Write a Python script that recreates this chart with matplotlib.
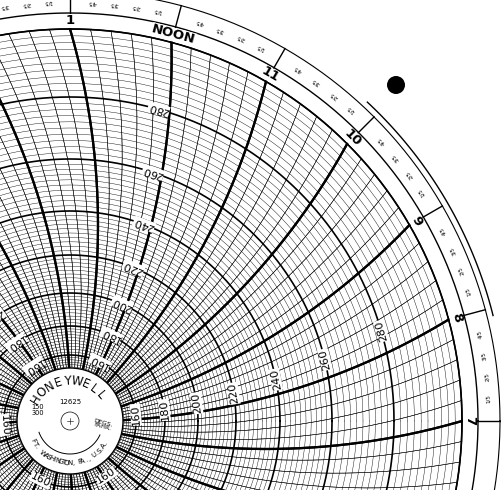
import numpy as np
import matplotlib
matplotlib.use("Agg")
import matplotlib.pyplot as plt

# temperature scale (deg F) -> radius on the paper (pixels), non-linear
scale_temps = [150, 160, 180, 200, 220, 240, 260, 280, 300]
scale_radii = [54, 66, 95, 128, 166, 210, 262, 324, 392]
label_temps = [160, 180, 200, 220, 240, 260, 280]
label_lines = [19, 77, 137, 197, 257, 317]      # outer angles of the label rows
hour_labels = ["7", "8", "9", "10", "11", "NOON", "1", "2"]
hour_angles = [0, 15, 30, 45, 60, 75, 90, 105]
fractions = ["1/5", "2/5", "3/5", "4/5"]

CX, CY = 70, 421
R_OUT = 392
A_ARC = 700          # radius of the time arcs

def rad(t):
    return np.interp(t, scale_temps, scale_radii)

def arc_theta(theta_out_deg, r):
    return np.radians(theta_out_deg) + np.arccos(R_OUT / (2 * A_ARC)) - np.arccos(r / (2 * A_ARC))

def arc_pts(theta_out_deg, r0=54, r1=R_OUT):
    r = np.linspace(r0, r1, 200)
    th = arc_theta(theta_out_deg, r)
    return CX + r * np.cos(th), CY - r * np.sin(th)

fig = plt.figure(figsize=(5.01, 4.90), dpi=100)
ax = fig.add_axes([0, 0, 1, 1])
ax.set_xlim(0, 501)
ax.set_ylim(490, 0)
ax.axis("off")

a = np.linspace(0, 2 * np.pi, 720)

# concentric temperature circles
for t in range(150, 301, 2):
    lw = 1.2 if t % 20 == 0 else 0.3
    r = rad(t)
    ax.plot(CX + r * np.cos(a), CY - r * np.sin(a), color="black", lw=lw)

# time arcs every 12 minutes; hours bold
for k in range(-24 * 5, 24 * 5):
    th = k * 3.0
    lw = 1.6 if k % 5 == 0 else 0.35
    x, y = arc_pts(th)
    ax.plot(x, y, color="black", lw=lw)

# outer band
for r, lw in [(R_OUT, 1.0), (408, 1.0), (430, 0.8)]:
    ax.plot(CX + r * np.cos(a), CY - r * np.sin(a), color="black", lw=lw)
aa = np.radians(np.linspace(14, 47, 100))
ax.plot(CX + 436 * np.cos(aa), CY - 436 * np.sin(aa), color="black", lw=1.0)

for lab, ang in zip(hour_labels, hour_angles):
    th = np.radians(ang)
    ax.plot([CX + R_OUT * np.cos(th), CX + 430 * np.cos(th)],
            [CY - R_OUT * np.sin(th), CY - 430 * np.sin(th)], color="black", lw=1.0)
    ax.text(CX + 400 * np.cos(th), CY - 400 * np.sin(th), lab,
            rotation=ang - 90, ha="center", va="center", fontsize=9.5,
            fontweight="bold", bbox=dict(fc="white", ec="none", pad=0.3))
    for q, s in zip([3, 6, 9, 12], fractions):
        t2 = np.radians(ang + q)
        ax.text(CX + 419 * np.cos(t2), CY - 419 * np.sin(t2), s,
                rotation=ang + q + 90, ha="center", va="center", fontsize=4)

# temperature labels along label rows
for lt in label_lines:
    for t in label_temps:
        r = rad(t)
        th = arc_theta(lt, r)
        ax.text(CX + r * np.cos(th), CY - r * np.sin(th), str(t),
                rotation=np.degrees(th) + 90, ha="center", va="center",
                fontsize=8, bbox=dict(fc="white", ec="none", pad=0.2))

# hub
ax.add_patch(plt.Circle((CX, CY), 53, fc="white", ec="black", lw=1.0, zorder=5))
ax.add_patch(plt.Circle((CX, CY), 9, fc="white", ec="black", lw=0.5, zorder=6))
ax.plot([CX - 3, CX + 3], [CY, CY], color="black", lw=0.4, zorder=7)
ax.plot([CX, CX], [CY - 3, CY + 3], color="black", lw=0.4, zorder=7)
ab = np.radians(np.linspace(200, 335, 60))
ax.plot(CX + 33 * np.cos(ab), CY - 33 * np.sin(ab), color="black", lw=0.7, zorder=7)

def arc_text(s, r, a0, a1, size, upright_top=True):
    angs = np.linspace(a0, a1, len(s))
    for ch, ang in zip(s, angs):
        th = np.radians(ang)
        rot = ang - 90 if upright_top else ang + 90
        ax.text(CX + r * np.cos(th), CY - r * np.sin(th), ch, rotation=rot,
                ha="center", va="center", fontsize=size, zorder=8)

arc_text("HONEYWELL", 40, 148, 40, 8.5)
arc_text("FT.  WASHINGTON, PA., U.S.A.", 42, 208, 328, 5, upright_top=False)
ax.text(CX, CY - 19, "12625", ha="center", va="center", fontsize=5, zorder=8)
ax.text(CX - 32, CY - 11, "150\n300", ha="center", va="center", fontsize=4.8,
        zorder=8, linespacing=0.9)
ax.text(CX + 33, CY + 4, "DEGS.\nFAHR.", ha="center", va="center", fontsize=4.5,
        zorder=8, linespacing=0.9, rotation=-15)

# punch hole
ax.add_patch(plt.Circle((396, 85), 9, fc="black", ec="none", zorder=8))

fig.savefig("out.png", dpi=100, facecolor="white")
